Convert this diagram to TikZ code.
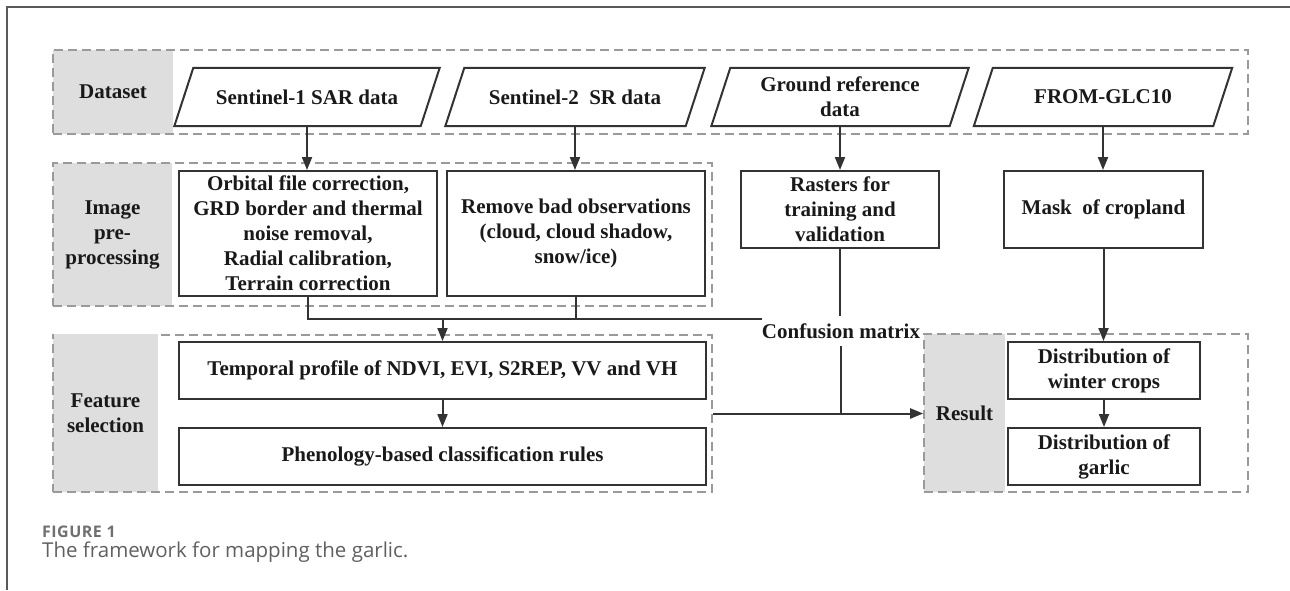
\documentclass[tikz,border=0pt]{standalone}
\usepackage{fontspec}
\setmainfont{Liberation Serif}
\newfontfamily\capfont{Open Sans}
\newfontfamily\figfont[LetterSpace=3]{Open Sans}
\usetikzlibrary{arrows.meta}
\definecolor{dashgray}{HTML}{9A9A9A}
\definecolor{labelgray}{HTML}{DEDEDE}
\definecolor{linedark}{HTML}{333333}
\definecolor{framegray}{HTML}{5A5A5A}
\definecolor{capgray}{HTML}{707070}
\definecolor{capgraytwo}{HTML}{606060}
\tikzset{
  txt/.style={font=\fontsize{21}{25}\selectfont\bfseries, text=black!90, align=center},
  databox/.style={txt, inner sep=0pt, minimum height=58pt},
  paraline/.style={draw=linedark, line width=2pt, line join=miter},
  procbox/.style={txt, draw=linedark, line width=2pt, inner sep=0pt},
  groupbox/.style={draw=dashgray, line width=1.6pt, dash pattern=on 9pt off 5pt, inner sep=0pt},
  labelbox/.style={txt, fill=labelgray, inner sep=0pt},
  conn/.style={draw=linedark, line width=2pt},
  arr/.style={conn, -{Triangle[length=13pt,width=10pt]}},
}
\begin{document}
\begin{tikzpicture}[x=1pt,y=-1pt]
\useasboundingbox (0,0) rectangle (1290,590);
% frame
\draw[framegray, line width=1.5pt] (1290,7) -- (7,7) -- (7,590);

% label areas
\node[labelbox, minimum width=120pt, minimum height=84pt] (ldata) at (113,92) {Dataset};
\node[labelbox, minimum width=119pt, minimum height=143pt] (lpre) at (112.5,234.5) {Image\\pre-\\processing};
\node[labelbox, minimum width=105pt, minimum height=157pt] (lfeat) at (105.5,413.5) {Feature\\selection};
\node[labelbox, minimum width=81pt, minimum height=158pt] (lres) at (964.5,413) {Result};

% group boxes
\node[groupbox, minimum width=1195pt, minimum height=84pt] (gdata) at (650.5,92) {};
\node[groupbox, minimum width=659pt, minimum height=143pt] (gpre) at (382.5,234.5) {};
\node[groupbox, minimum width=659pt, minimum height=157pt] (gfeat) at (382.5,413.5) {};
\node[groupbox, minimum width=324pt, minimum height=158pt] (gres) at (1086,413) {};
% the grey label hides the top border of the feature group
\fill[labelgray] ([xshift=1pt,yshift=1.2pt]lfeat.north west) rectangle ([xshift=-0.5pt,yshift=-1.2pt]lfeat.north east);

% data parallelograms
\node[databox, minimum width=246pt] (s1) at (307,97) {Sentinel-1 SAR data};
\node[databox, minimum width=240pt] (s2) at (575,97) {Sentinel-2\ \ SR data};
\node[databox, minimum width=238pt] (gr) at (840,97) {Ground reference\\data};
\node[databox, minimum width=239pt] (fg) at (1103,97) {FROM-GLC10};
\foreach \n in {s1,s2,gr,fg}
  \draw[paraline] ([xshift=9.5pt]\n.north west) -- ([xshift=9.5pt]\n.north east)
    -- ([xshift=-9.5pt]\n.south east) -- ([xshift=-9.5pt]\n.south west) -- cycle;

% process boxes
\node[procbox, minimum width=258pt, minimum height=125pt] (orb) at (308,233.5)
  {Orbital file correction,\\GRD border and thermal\\noise removal,\\Radial calibration,\\Terrain correction};
\node[procbox, minimum width=258pt, minimum height=125pt] (rem) at (576,233.5)
  {Remove bad observations\\(cloud, cloud shadow,\\snow/ice)};
\node[procbox, minimum width=198pt, minimum height=77pt] (ras) at (840,209.5)
  {Rasters for\\training and\\validation};
\node[procbox, minimum width=199pt, minimum height=77pt] (msk) at (1103.5,209.5)
  {Mask\ \ of cropland};
\node[procbox, minimum width=527pt, minimum height=57pt] (tmp) at (442.5,370.5)
  {Temporal profile of NDVI, EVI, S2REP, VV and VH};
\node[procbox, minimum width=527pt, minimum height=57pt] (phe) at (442.5,456.5)
  {Phenology-based classification rules};
\node[procbox, minimum width=192pt, minimum height=57pt] (win) at (1104,370.5)
  {Distribution of\\winter crops};
\node[procbox, minimum width=192pt, minimum height=57pt] (gar) at (1104,456.5)
  {Distribution of\\garlic};

% confusion matrix
\node[txt, inner sep=0pt, minimum height=30pt] (cm) at (841,331) {Confusion matrix};

% connectors
\draw[arr] (s1.south) -- (s1.south |- orb.north);
\draw[arr] (s2.south) -- (s2.south |- rem.north);
\draw[arr] (gr.south) -- (gr.south |- ras.north);
\draw[arr] (fg.south) -- (fg.south |- msk.north);
\draw[arr] (msk.south) -- (msk.south |- win.north);
\draw[arr] (win.south) -- (gar.north);
\draw[arr] (tmp.south) -- (phe.north);

\coordinate (jend) at (762,319);
\draw[conn] (orb.south) |- (jend);
\draw[conn] (rem.south) -- (rem.south |- jend);
\draw[arr] (tmp.north |- jend) -- (tmp.north);

\draw[conn] (ras.south) -- (ras.south |- cm.north);
\draw[conn] (cm.south) -- (cm.south |- gres.west);
\draw[arr] (gfeat.east) -- (gfeat.east -| gres.west);

% caption
\node[anchor=base west, font=\figfont\bfseries\fontsize{16}{18}\selectfont, text=capgray, inner sep=0pt] (fig) at (42,537) {FIGURE 1};
\node[anchor=base west, font=\capfont\fontsize{20.5}{22}\selectfont, text=capgraytwo, inner sep=0pt] (cap) at (42,557) {The framework for mapping the garlic.};
\end{tikzpicture}
\end{document}
